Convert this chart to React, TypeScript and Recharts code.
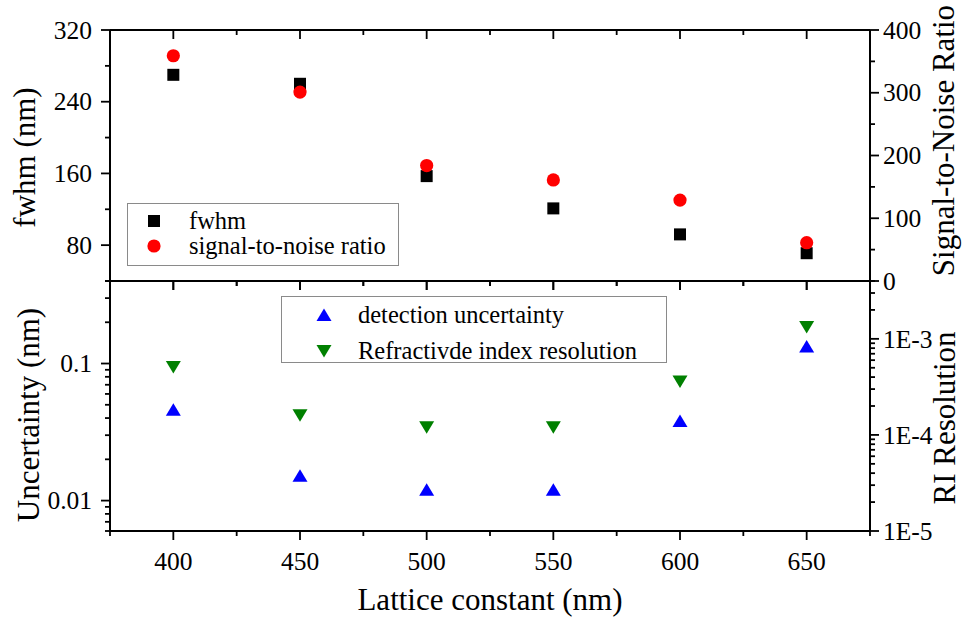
import React from 'react';
import { ScatterChart, Scatter, XAxis, YAxis, Legend, Label } from 'recharts';

const FONT = '"Liberation Serif", "Times New Roman", Times, serif';

// ---------- data ----------
const latticeConstant = [400, 450, 500, 550, 600, 650];
const fwhmValues = [270, 260, 157, 121, 92, 71];
const snrValues = [359, 301, 184, 161, 129, 61];
const detectionUncertainty = [0.046, 0.0152, 0.012, 0.012, 0.038, 0.133];
const riResolution = [5.1e-4, 1.6e-4, 1.2e-4, 1.2e-4, 3.6e-4, 1.33e-3];

const seriesNames = ['fwhm', 'signal-to-noise ratio', 'detection uncertainty', 'Refractivde index resolution'];

// ---------- ticks ----------
const xTicks = [375, 400, 425, 450, 475, 500, 525, 550, 575, 600, 625, 650, 675];
const xMajor = [400, 450, 500, 550, 600, 650];
const xLabels = ['400', '450', '500', '550', '600', '650'];

const fwhmTicks = [40, 80, 120, 160, 200, 240, 280, 320];
const fwhmMajor = [80, 160, 240, 320];
const fwhmLabels = ['80', '160', '240', '320'];

const snrTicks = [0, 50, 100, 150, 200, 250, 300, 350, 400];
const snrMajor = [0, 100, 200, 300, 400];
const snrLabels = ['0', '100', '200', '300', '400'];

const uncTicks = [0.006, 0.007, 0.008, 0.009, 0.01, 0.02, 0.03, 0.04, 0.05, 0.06, 0.07, 0.08, 0.09, 0.1, 0.2, 0.3, 0.4];
const uncMajor = [0.01, 0.1];
const uncLabels = ['0.01', '0.1'];

const riTicks = [1e-5, 2e-5, 3e-5, 4e-5, 5e-5, 6e-5, 7e-5, 8e-5, 9e-5, 1e-4, 2e-4, 3e-4, 4e-4, 5e-4, 6e-4, 7e-4, 8e-4, 9e-4, 1e-3, 2e-3, 3e-3, 4e-3];
const riMajor = [1e-5, 1e-4, 1e-3];
const riLabels = ['1E-5', '1E-4', '1E-3'];

const fwhmData = latticeConstant.map((x, i) => ({ x, y: fwhmValues[i] }));
const snrData = latticeConstant.map((x, i) => ({ x, y: snrValues[i] }));
const uncData = latticeConstant.map((x, i) => ({ x, y: detectionUncertainty[i] }));
const riData = latticeConstant.map((x, i) => ({ x, y: riResolution[i] }));

// ---------- helpers ----------
type Kind = 'square' | 'circle' | 'up' | 'down';
const shapeByName: Record<string, Kind> = {
  [seriesNames[0]]: 'square',
  [seriesNames[1]]: 'circle',
  [seriesNames[2]]: 'up',
  [seriesNames[3]]: 'down',
};

function drawSymbol(kind: Kind, cx: number, cy: number, color: string) {
  if (kind === 'square') return <rect x={cx - 6} y={cy - 6} width={12} height={12} fill={color} />;
  if (kind === 'circle') return <circle cx={cx} cy={cy} r={6.6} fill={color} />;
  if (kind === 'up')
    return <polygon points={`${cx},${cy - 6.5} ${cx + 7.5},${cy + 6} ${cx - 7.5},${cy + 6}`} fill={color} />;
  return <polygon points={`${cx},${cy + 6.5} ${cx + 7.5},${cy - 6} ${cx - 7.5},${cy - 6}`} fill={color} />;
}

const TICK_FONT = 25.5;
const MAJOR_LEN = 9;
const MINOR_LEN = 5;

function makeTick(side: 'top' | 'bottom' | 'left' | 'right', majors: number[], labels: string[] | null, inward = false) {
  return (props: any) => {
    const { x, y, payload } = props;
    const v = Number(payload.value);
    const idx = majors.findIndex((m) => Math.abs(m - v) <= Math.abs(m) * 1e-6 + 1e-12);
    const len = idx >= 0 ? MAJOR_LEN : MINOR_LEN;
    let x2 = x;
    let y2 = y;
    if (side === 'bottom') y2 = inward ? y - len : y + len;
    if (side === 'top') y2 = inward ? y + len : y - len;
    if (side === 'left') x2 = x - len;
    if (side === 'right') x2 = x + len;
    let text: any = null;
    if (idx >= 0 && labels) {
      const s = labels[idx];
      const common = { fontSize: TICK_FONT, fontFamily: FONT, fill: '#000' };
      if (side === 'bottom') text = <text x={x} y={y + 39} textAnchor="middle" {...common}>{s}</text>;
      if (side === 'left') text = <text x={x - 18} y={y + 8.7} textAnchor="end" {...common}>{s}</text>;
      if (side === 'right') text = <text x={x + 13} y={y + 8.7} textAnchor="start" {...common}>{s}</text>;
    }
    return (
      <g>
        <line x1={x} y1={y} x2={x2} y2={y2} stroke="#000" strokeWidth={1.8} />
        {text}
      </g>
    );
  };
}

const LABEL_FONT = 31;
const vLabel = (text: string, dx: number, dy: number) => (props: any) => {
  const vb = props.viewBox || { x: 0, y: 0, width: 0, height: 0 };
  const x = vb.x + dx;
  const y = vb.y + vb.height / 2 + dy;
  return (
    <text x={x} y={y} transform={`rotate(-90 ${x} ${y})`} textAnchor="middle" fontSize={LABEL_FONT} fontFamily={FONT} fill="#000">
      {text}
    </text>
  );
};
const hLabel = (text: string, dy: number) => (props: any) => {
  const vb = props.viewBox || { x: 0, y: 0, width: 0, height: 0 };
  return (
    <text x={vb.x + vb.width / 2} y={vb.y + dy} textAnchor="middle" fontSize={LABEL_FONT} fontFamily={FONT} fill="#000">
      {text}
    </text>
  );
};

function legendContent(w: number, h: number, iconX: number, textX: number, rows: number[]) {
  return (props: any) => {
    const payload = [...(props.payload || [])].sort(
      (a: any, b: any) => seriesNames.indexOf(a.value) - seriesNames.indexOf(b.value)
    );
    return (
      <div style={{ width: w, height: h, border: '1px solid #8a8a8a', boxSizing: 'border-box', background: '#fff', position: 'relative' }}>
        <svg width={w - 2} height={h - 2} style={{ position: 'absolute', left: 0, top: 0 }}>
          {payload.map((entry: any, i: number) => (
            <g key={i}>
              {drawSymbol(shapeByName[entry.value] || 'square', iconX, rows[i], entry.color)}
              <text x={textX} y={rows[i] + 7.5} fontSize={24.5} fontFamily={FONT} fill="#000">
                {entry.value}
              </text>
            </g>
          ))}
        </svg>
      </div>
    );
  };
}

const axisLine = { stroke: '#000', strokeWidth: 2 };
const X_DOMAIN: [number, number] = [375, 675];

export default function App() {
  return (
    <div style={{ position: 'absolute', left: 0, top: 0, width: 963, height: 621, background: '#fff' }}>
      {/* bottom panel */}
      <div style={{ position: 'absolute', left: 0, top: 271 }}>
        <ScatterChart width={963} height={350} margin={{ top: 0, right: 0, bottom: 0, left: 0 }}>
          <XAxis xAxisId="b" type="number" dataKey="x" domain={X_DOMAIN} allowDataOverflow ticks={xTicks} interval={0}
            height={90} tickSize={0} tickMargin={0} tickLine={false} axisLine={axisLine} tick={makeTick('bottom', xMajor, xLabels)}>
            <Label content={hLabel('Lattice constant (nm)', 79)} />
          </XAxis>
          <XAxis xAxisId="t" orientation="top" type="number" dataKey="x" domain={X_DOMAIN} allowDataOverflow ticks={xTicks} interval={0}
            height={10} tickSize={0} tickMargin={0} tickLine={false} axisLine={axisLine} tick={makeTick('top', xMajor, null, true)} />
          <YAxis yAxisId="l" type="number" scale="log" dataKey="y" domain={[0.006, 0.4]} allowDataOverflow ticks={uncTicks} interval={0}
            width={110} tickSize={0} tickMargin={0} tickLine={false} axisLine={axisLine} tick={makeTick('left', uncMajor, uncLabels)}>
            <Label content={vLabel('Uncertainty (nm)', 39, 9)} />
          </YAxis>
          <YAxis yAxisId="r" orientation="right" type="number" scale="log" dataKey="y" domain={[1e-5, 4e-3]} allowDataOverflow ticks={riTicks} interval={0}
            width={93} tickSize={0} tickMargin={0} tickLine={false} axisLine={axisLine} tick={makeTick('right', riMajor, riLabels)}>
            <Label content={vLabel('RI Resolution', 85, 12)} />
          </YAxis>
          <Legend layout="vertical" align="center" verticalAlign="middle"
            wrapperStyle={{ left: 281, top: 25, width: 386 }}
            content={legendContent(386, 67, 42, 76, [18, 54])} />
          <Scatter name={seriesNames[2]} data={uncData} xAxisId="b" yAxisId="l" fill="#0000ff" isAnimationActive={false}
            shape={(p: any) => drawSymbol('up', p.cx, p.cy, '#0000ff')} />
          <Scatter name={seriesNames[3]} data={riData} xAxisId="b" yAxisId="r" fill="#008000" isAnimationActive={false}
            shape={(p: any) => drawSymbol('down', p.cx, p.cy, '#008000')} />
        </ScatterChart>
      </div>
      {/* top panel */}
      <div style={{ position: 'absolute', left: 0, top: 0 }}>
        <ScatterChart width={963} height={311} margin={{ top: 0, right: 0, bottom: 0, left: 0 }}>
          <XAxis xAxisId="b" type="number" dataKey="x" domain={X_DOMAIN} allowDataOverflow ticks={xTicks} interval={0}
            height={30} tickSize={0} tickMargin={0} tickLine={false} axisLine={axisLine} tick={makeTick('bottom', xMajor, null)} />
          <XAxis xAxisId="t" orientation="top" type="number" dataKey="x" domain={X_DOMAIN} allowDataOverflow ticks={xTicks} interval={0}
            height={30} tickSize={0} tickMargin={0} tickLine={false} axisLine={axisLine} tick={makeTick('top', xMajor, null, true)} />
          <YAxis yAxisId="l" type="number" dataKey="y" domain={[40, 320]} allowDataOverflow ticks={fwhmTicks} interval={0}
            width={110} tickSize={0} tickMargin={0} tickLine={false} axisLine={axisLine} tick={makeTick('left', fwhmMajor, fwhmLabels)}>
            <Label content={vLabel('fwhm (nm)', 35, 2)} />
          </YAxis>
          <YAxis yAxisId="r" orientation="right" type="number" dataKey="y" domain={[0, 400]} allowDataOverflow ticks={snrTicks} interval={0}
            width={93} tickSize={0} tickMargin={0} tickLine={false} axisLine={axisLine} tick={makeTick('right', snrMajor, snrLabels)}>
            <Label content={vLabel('Signal-to-Noise Ratio', 84, -15)} />
          </YAxis>
          <Legend layout="vertical" align="center" verticalAlign="middle"
            wrapperStyle={{ left: 127, top: 203, width: 272 }}
            content={legendContent(272, 63, 26, 61, [17, 42])} />
          <Scatter name={seriesNames[0]} data={fwhmData} xAxisId="b" yAxisId="l" fill="#000000" isAnimationActive={false}
            shape={(p: any) => drawSymbol('square', p.cx, p.cy, '#000000')} />
          <Scatter name={seriesNames[1]} data={snrData} xAxisId="b" yAxisId="r" fill="#ff0000" isAnimationActive={false}
            shape={(p: any) => drawSymbol('circle', p.cx, p.cy, '#ff0000')} />
        </ScatterChart>
      </div>
    </div>
  );
}
